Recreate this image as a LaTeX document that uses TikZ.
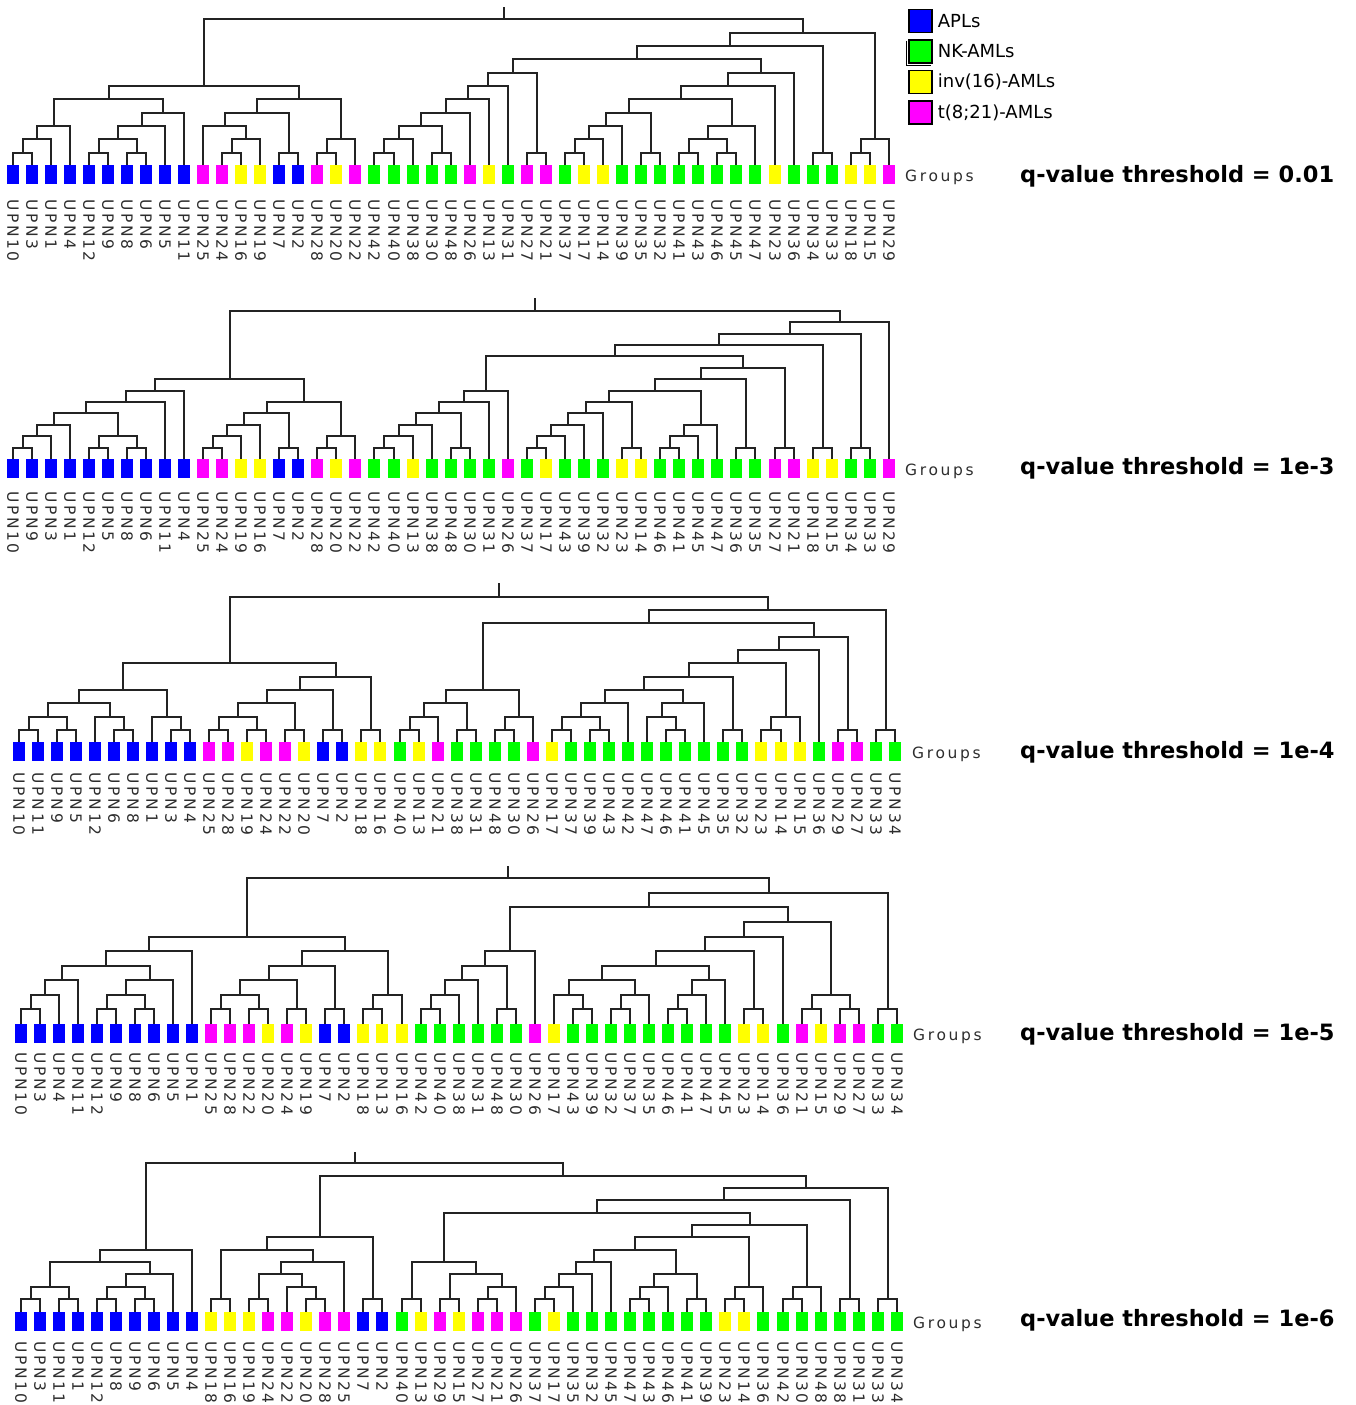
\documentclass[tikz,border=0pt]{standalone}
\usepackage{fontspec}
\setmainfont{DejaVu Sans}
\newfontfamily\lblfont[LetterSpace=17]{DejaVu Sans}
\usetikzlibrary{calc,positioning}

\definecolor{aplc}{RGB}{0,0,255}
\definecolor{nkc}{RGB}{0,255,0}
\definecolor{invc}{RGB}{255,255,0}
\definecolor{tc}{RGB}{255,0,255}
\definecolor{linec}{RGB}{35,35,35}
\definecolor{txtc}{RGB}{45,45,45}

% colour of a sample from its UPN number
\newcommand\setcol[1]{\ifnum#1<13 \def\col{aplc}\else\ifnum#1>29 \def\col{nkc}\else
  \ifnum#1=21 \def\col{tc}\else\ifnum#1=22 \def\col{tc}\else
  \ifnum#1>23 \def\col{tc}\else\def\col{invc}\fi\fi\fi\fi\fi}

% one row of leaves: x of first leaf, top of squares, top of labels, UPN list
\newcommand\leafrow[4]{%
  \foreach \u [count=\i] in {#4} {
    \setcol{\u}
    \pgfmathsetmacro\xx{round(#1+(\i-1)*19.05)}
    \node[leaf=\col,anchor=north] (q\i) at (\xx,#2) {};
    \coordinate (\i) at (q\i.north);
    \node[upn] (t\i) at (\xx,#3) {UPN\u};
  }}

% join two branches at a level
\newcommand\jn[4]{%
  \pgfmathsetmacro\yy{round(\ylo-(#4-1)*\ystp)}
  \path let \p1=($(#2)!0.5!(#3)$) in coordinate (#1) at ({round(\x1)},\yy);
  \draw[link] (#2) |- (#1) -| (#3);}

\begin{document}
\begin{tikzpicture}[x=1pt,y=-1pt,
    leaf/.style={fill=#1,minimum width=12pt,minimum height=19pt,
                 inner sep=0pt,outer sep=0pt},
    link/.style={draw=linec,line width=1.8pt},
    upn/.style={font=\lblfont\fontsize{15.5}{15.5}\selectfont,text=txtc,
                rotate=-90,anchor=west,inner sep=0pt},
    grp/.style={font=\lblfont\fontsize{15.5}{15.5}\selectfont,text=txtc,
                anchor=base west,inner sep=0pt},
    qlbl/.style={font=\bfseries\fontsize{22.5}{22.5}\selectfont,
                 anchor=base west,inner sep=0pt},
    key/.style={draw=black,line width=1.3pt,minimum size=23pt,inner sep=0pt},
    keytxt/.style={font=\fontsize{18}{18}\selectfont,inner sep=0pt}]
  \useasboundingbox (0,0) rectangle (1355,1405);

  % legend
  \node[key,fill=aplc] (kapl) at (920.5,21) {};
  \node[keytxt,right=5pt of kapl] (tapl) {APLs};
  \node[key,fill=nkc] (knk) at (920.5,51.5) {};
  \draw[black,line width=1.1pt] ($(knk.north west)+(-1.6,1.6)$) |- ($(knk.south east)+(-1.6,1.6)$);
  \node[keytxt,right=5pt of knk] (tnk) {NK-AMLs};
  \node[key,fill=invc] (kinv) at (920.5,82) {};
  \node[keytxt,right=5pt of kinv] (tinv) {inv(16)-AMLs};
  \node[key,fill=tc] (kt) at (920.5,112.5) {};
  \node[keytxt,right=5pt of kt] (tt) {t(8;21)-AMLs};

  % q = 0.01
  \def\ylo{152.7}\def\ystp{13.33}
  \leafrow{12.5}{165}{199}{10,3,1,4,12,9,8,6,5,11,25,24,16,19,7,2,28,20,22,42,40,38,30,48,26,13,31,27,21,37,17,14,39,35,32,41,43,46,45,47,23,36,34,33,18,15,29}
  \jn{n1}{1}{2}{1} \jn{n2}{n1}{3}{2} \jn{n3}{n2}{4}{3}
  \jn{n4}{5}{6}{1} \jn{n5}{7}{8}{1} \jn{n6}{n4}{n5}{2} \jn{n7}{n6}{9}{3} \jn{n8}{n7}{10}{4}
  \jn{n9}{n3}{n8}{5}
  \jn{n10}{12}{13}{1} \jn{n11}{n10}{14}{2} \jn{n12}{11}{n11}{3} \jn{n13}{15}{16}{1} \jn{n14}{n12}{n13}{4}
  \jn{n15}{17}{18}{1} \jn{n16}{n15}{19}{2} \jn{n17}{n14}{n16}{5} \jn{n18}{n9}{n17}{6}
  \jn{n19}{20}{21}{1} \jn{n20}{n19}{22}{2} \jn{n21}{23}{24}{1} \jn{n22}{n20}{n21}{3} \jn{n23}{n22}{25}{4}
  \jn{n24}{n23}{26}{5} \jn{n25}{n24}{27}{6} \jn{n26}{28}{29}{1} \jn{n27}{n25}{n26}{7}
  \jn{n28}{30}{31}{1} \jn{n29}{n28}{32}{2} \jn{n30}{n29}{33}{3} \jn{n31}{34}{35}{1} \jn{n32}{n30}{n31}{4}
  \jn{n33}{36}{37}{1} \jn{n34}{38}{39}{1} \jn{n35}{n33}{n34}{2} \jn{n36}{n35}{40}{3} \jn{n37}{n32}{n36}{5}
  \jn{n38}{n37}{41}{6} \jn{n39}{n38}{42}{7} \jn{n40}{n27}{n39}{8} \jn{n41}{43}{44}{1} \jn{n42}{n40}{n41}{9}
  \jn{n43}{45}{46}{1} \jn{n44}{n43}{47}{2} \jn{n45}{n42}{n44}{10} \jn{n46}{n18}{n45}{11}
  \coordinate (stem) at (n46 |- 0,7.3);
  \draw[link] (n46) -- (stem);
  \node[grp] (g1) at (905,181.5) {Groups};
  \node[qlbl] (h1) at (1020,182) {q-value threshold = 0.01};

  % q = 1e-3
  \def\ylo{447.7}\def\ystp{11.42}
  \leafrow{12.5}{458.5}{491}{10,9,3,1,12,5,8,6,11,4,25,24,19,16,7,2,28,20,22,42,40,13,38,48,30,31,26,37,17,43,39,32,23,14,46,41,45,47,36,35,27,21,18,15,34,33,29}
  \jn{n1}{1}{2}{1} \jn{n2}{n1}{3}{2} \jn{n3}{n2}{4}{3} \jn{n4}{5}{6}{1} \jn{n5}{7}{8}{1} \jn{n6}{n4}{n5}{2}
  \jn{n7}{n3}{n6}{4} \jn{n8}{n7}{9}{5} \jn{n9}{n8}{10}{6}
  \jn{n10}{11}{12}{1} \jn{n11}{n10}{13}{2} \jn{n12}{n11}{14}{3} \jn{n13}{15}{16}{1} \jn{n14}{n12}{n13}{4}
  \jn{n15}{17}{18}{1} \jn{n16}{n15}{19}{2} \jn{n17}{n14}{n16}{5} \jn{n18}{n9}{n17}{7}
  \jn{n19}{20}{21}{1} \jn{n20}{n19}{22}{2} \jn{n21}{n20}{23}{3} \jn{n22}{24}{25}{1} \jn{n23}{n21}{n22}{4}
  \jn{n24}{n23}{26}{5} \jn{n25}{n24}{27}{6}
  \jn{n26}{28}{29}{1} \jn{n27}{n26}{30}{2} \jn{n28}{n27}{31}{3} \jn{n29}{n28}{32}{4} \jn{n30}{33}{34}{1}
  \jn{n31}{n29}{n30}{5} \jn{n32}{35}{36}{1} \jn{n33}{n32}{37}{2} \jn{n34}{n33}{38}{3} \jn{n35}{n31}{n34}{6}
  \jn{n36}{39}{40}{1} \jn{n37}{n35}{n36}{7} \jn{n38}{41}{42}{1} \jn{n39}{n37}{n38}{8} \jn{n40}{n25}{n39}{9}
  \jn{n41}{43}{44}{1} \jn{n42}{n40}{n41}{10} \jn{n43}{45}{46}{1} \jn{n44}{n42}{n43}{11} \jn{n45}{n44}{47}{12}
  \jn{n46}{n18}{n45}{13}
  \coordinate (stem) at (n46 |- 0,298.3);
  \draw[link] (n46) -- (stem);
  \node[grp] (g2) at (905,475) {Groups};
  \node[qlbl] (h2) at (1020,474) {q-value threshold = 1e-3};

  % q = 1e-4
  \def\ylo{730}\def\ystp{13.33}
  \leafrow{18.5}{742.3}{772.7}{10,11,9,5,12,6,8,1,3,4,25,28,19,24,22,20,7,2,18,16,40,13,21,38,31,48,30,26,17,37,39,43,42,47,46,41,45,35,32,23,14,15,36,29,27,33,34}
  \jn{n1}{1}{2}{1} \jn{n2}{3}{4}{1} \jn{n3}{n1}{n2}{2} \jn{n4}{6}{7}{1} \jn{n5}{5}{n4}{2} \jn{n6}{n3}{n5}{3}
  \jn{n7}{9}{10}{1} \jn{n8}{8}{n7}{2} \jn{n9}{n6}{n8}{4}
  \jn{n10}{11}{12}{1} \jn{n11}{13}{14}{1} \jn{n12}{n10}{n11}{2} \jn{n13}{15}{16}{1} \jn{n14}{n12}{n13}{3}
  \jn{n15}{17}{18}{1} \jn{n16}{n14}{n15}{4} \jn{n17}{19}{20}{1} \jn{n18}{n16}{n17}{5} \jn{n19}{n9}{n18}{6}
  \jn{n20}{21}{22}{1} \jn{n21}{n20}{23}{2} \jn{n22}{24}{25}{1} \jn{n23}{n21}{n22}{3} \jn{n24}{26}{27}{1}
  \jn{n25}{n24}{28}{2} \jn{n26}{n23}{n25}{4}
  \jn{n27}{29}{30}{1} \jn{n28}{31}{32}{1} \jn{n29}{n27}{n28}{2} \jn{n30}{n29}{33}{3} \jn{n31}{35}{36}{1}
  \jn{n32}{34}{n31}{2} \jn{n33}{n32}{37}{3} \jn{n34}{n30}{n33}{4} \jn{n35}{38}{39}{1} \jn{n36}{n34}{n35}{5}
  \jn{n37}{40}{41}{1} \jn{n38}{n37}{42}{2} \jn{n39}{n36}{n38}{6} \jn{n40}{n39}{43}{7} \jn{n41}{44}{45}{1}
  \jn{n42}{n40}{n41}{8} \jn{n43}{n26}{n42}{9} \jn{n44}{46}{47}{1} \jn{n45}{n43}{n44}{10} \jn{n46}{n19}{n45}{11}
  \coordinate (stem) at (n46 |- 0,582.7);
  \draw[link] (n46) -- (stem);
  \node[grp] (g3) at (912,758.8) {Groups};
  \node[qlbl] (h3) at (1020,758) {q-value threshold = 1e-4};

  % q = 1e-5
  \def\ylo{1009.3}\def\ystp{14.56}
  \leafrow{20.5}{1024.3}{1052.3}{10,3,4,11,12,9,8,6,5,1,25,28,22,20,24,19,7,2,18,13,16,42,40,38,31,48,30,26,17,43,39,32,37,35,46,41,47,45,23,14,36,21,15,29,27,33,34}
  \jn{n1}{1}{2}{1} \jn{n2}{n1}{3}{2} \jn{n3}{n2}{4}{3} \jn{n4}{5}{6}{1} \jn{n5}{7}{8}{1} \jn{n6}{n4}{n5}{2}
  \jn{n7}{n6}{9}{3} \jn{n8}{n3}{n7}{4} \jn{n9}{n8}{10}{5}
  \jn{n10}{11}{12}{1} \jn{n11}{13}{14}{1} \jn{n12}{n10}{n11}{2} \jn{n13}{15}{16}{1} \jn{n14}{n12}{n13}{3}
  \jn{n15}{17}{18}{1} \jn{n16}{n14}{n15}{4} \jn{n17}{19}{20}{1} \jn{n18}{n17}{21}{2} \jn{n19}{n16}{n18}{5}
  \jn{n20}{n9}{n19}{6}
  \jn{n21}{22}{23}{1} \jn{n22}{n21}{24}{2} \jn{n23}{n22}{25}{3} \jn{n24}{26}{27}{1} \jn{n25}{n23}{n24}{4}
  \jn{n26}{n25}{28}{5}
  \jn{n27}{30}{31}{1} \jn{n28}{29}{n27}{2} \jn{n29}{32}{33}{1} \jn{n30}{n29}{34}{2} \jn{n31}{n28}{n30}{3}
  \jn{n32}{35}{36}{1} \jn{n33}{n32}{37}{2} \jn{n34}{n33}{38}{3} \jn{n35}{n31}{n34}{4} \jn{n36}{39}{40}{1}
  \jn{n37}{n35}{n36}{5} \jn{n38}{n37}{41}{6} \jn{n39}{42}{43}{1} \jn{n40}{44}{45}{1} \jn{n41}{n39}{n40}{2}
  \jn{n42}{n38}{n41}{7} \jn{n43}{n26}{n42}{8} \jn{n44}{46}{47}{1} \jn{n45}{n43}{n44}{9} \jn{n46}{n20}{n45}{10}
  \coordinate (stem) at (n46 |- 0,866);
  \draw[link] (n46) -- (stem);
  \node[grp] (g4) at (913,1040.8) {Groups};
  \node[qlbl] (h4) at (1020,1040.5) {q-value threshold = 1e-5};

  % q = 1e-6
  \def\ylo{1299}\def\ystp{12.33}
  \leafrow{20.5}{1311.7}{1341}{10,3,11,1,12,8,9,6,5,4,18,16,19,24,22,20,28,25,7,2,40,13,29,15,27,21,26,37,17,35,32,45,47,43,46,41,39,23,14,36,42,30,48,38,31,33,34}
  \jn{n1}{1}{2}{1} \jn{n2}{3}{4}{1} \jn{n3}{n1}{n2}{2} \jn{n4}{5}{6}{1} \jn{n5}{7}{8}{1} \jn{n6}{n4}{n5}{2}
  \jn{n7}{n6}{9}{3} \jn{n8}{n3}{n7}{4} \jn{n9}{n8}{10}{5}
  \jn{n10}{11}{12}{1} \jn{n11}{13}{14}{1} \jn{n12}{16}{17}{1} \jn{n13}{15}{n12}{2} \jn{n14}{n11}{n13}{3}
  \jn{n15}{n14}{18}{4} \jn{n16}{n10}{n15}{5} \jn{n17}{19}{20}{1} \jn{n18}{n16}{n17}{6}
  \jn{n19}{21}{22}{1} \jn{n20}{23}{24}{1} \jn{n21}{25}{26}{1} \jn{n22}{n21}{27}{2} \jn{n23}{n20}{n22}{3}
  \jn{n24}{n19}{n23}{4}
  \jn{n25}{28}{29}{1} \jn{n26}{n25}{30}{2} \jn{n27}{n26}{31}{3} \jn{n28}{n27}{32}{4} \jn{n29}{33}{34}{1}
  \jn{n30}{n29}{35}{2} \jn{n31}{36}{37}{1} \jn{n32}{n30}{n31}{3} \jn{n33}{n28}{n32}{5} \jn{n34}{38}{39}{1}
  \jn{n35}{n34}{40}{2} \jn{n36}{n33}{n35}{6} \jn{n37}{41}{42}{1} \jn{n38}{n37}{43}{2} \jn{n39}{n36}{n38}{7}
  \jn{n40}{n24}{n39}{8} \jn{n41}{44}{45}{1} \jn{n42}{n40}{n41}{9} \jn{n43}{46}{47}{1} \jn{n44}{n42}{n43}{10}
  \jn{n45}{n18}{n44}{11} \jn{n46}{n9}{n45}{12}
  \coordinate (stem) at (n46 |- 0,1151.7);
  \draw[link] (n46) -- (stem);
  \node[grp] (g5) at (913,1328) {Groups};
  \node[qlbl] (h5) at (1020,1326.5) {q-value threshold = 1e-6};
\end{tikzpicture}
\end{document}
